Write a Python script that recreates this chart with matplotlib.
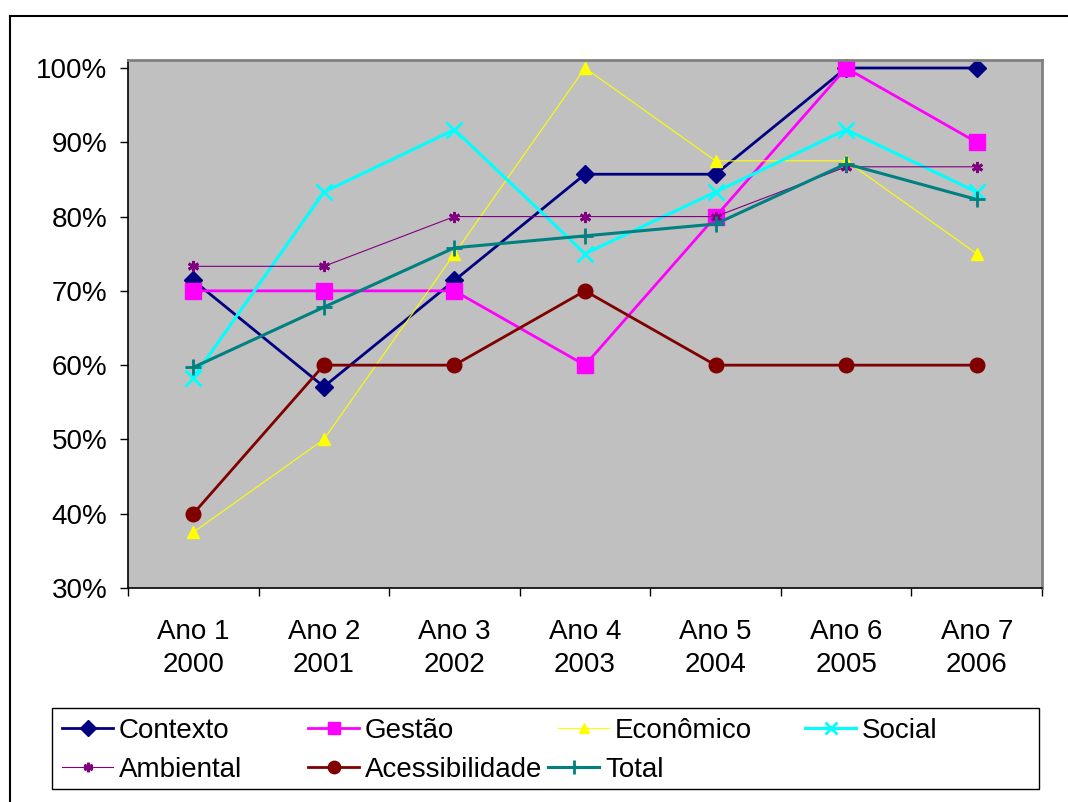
import numpy as np
import matplotlib
matplotlib.use("Agg")
import matplotlib.pyplot as plt
from matplotlib.lines import Line2D
from matplotlib.patches import Rectangle
from matplotlib.ticker import FuncFormatter

plt.rcParams['font.family'] = ['Liberation Sans', 'DejaVu Sans']

W, H = 1068, 802

anos = ["Ano 1\n2000", "Ano 2\n2001", "Ano 3\n2002", "Ano 4\n2003",
        "Ano 5\n2004", "Ano 6\n2005", "Ano 7\n2006"]

contexto = [71.4, 57.1, 71.4, 85.7, 85.7, 100.0, 100.0]
gestao = [70.0, 70.0, 70.0, 60.0, 80.0, 100.0, 90.0]
economico = [37.5, 50.0, 75.0, 100.0, 87.5, 87.5, 75.0]
social = [58.3, 83.3, 91.7, 75.0, 83.3, 91.7, 83.3]
ambiental = [73.3, 73.3, 80.0, 80.0, 80.0, 86.7, 86.7]
acessibilidade = [40.0, 60.0, 60.0, 70.0, 60.0, 60.0, 60.0]
total = [59.7, 67.8, 75.8, 77.4, 79.0, 87.1, 82.3]

# nome, valores, cor, marcador, tamanho, espessura da linha, mew
series = [
    ("Contexto", contexto, "#000080", "D", 9, 2.0, 1),
    ("Gestão", gestao, "#FF00FF", "s", 11, 2.0, 1),
    ("Econômico", economico, "#FFFF00", "^", 8, 0.8, 1),
    ("Social", social, "#00FFFF", "x", 11, 2.2, 2),
    ("Ambiental", ambiental, "#800080", (6, 2, 0), 8, 0.8, 2),
    ("Acessibilidade", acessibilidade, "#800000", "o", 10.5, 2.0, 1),
    ("Total", total, "#008080", "+", 12, 2.2, 2),
]

fig = plt.figure(figsize=(W / 100, H / 100), dpi=100)
ax = fig.add_axes([128 / W, (H - 588) / H, (1042 - 128) / W, (588 - 60) / H])
ax.set_facecolor("#C0C0C0")

x = np.arange(len(anos))
handles = {}
for nome, vals, cor, mk, ms, lw, mew in series:
    h, = ax.plot(x, vals, color=cor, marker=mk, markersize=ms, linewidth=lw,
                 markeredgewidth=mew, markeredgecolor=cor, markerfacecolor=cor,
                 clip_on=False, label=nome)
    handles[nome] = h

ax.set_xlim(-0.5, 6.5)
ax.set_ylim(30, 100 + 8 / 74.3 * 10)
ax.set_yticks(np.arange(30, 101, 10))
ax.yaxis.set_major_formatter(FuncFormatter(lambda v, p: f"{v:.0f}%"))
ax.tick_params(axis='y', direction='out', length=6, width=1, labelsize=20, pad=9)

ax.set_xticks(x)
ax.set_xticklabels(anos)
ax.set_xticks(np.arange(-0.5, 7, 1), minor=True)
ax.tick_params(axis='x', which='major', length=0, labelsize=20, pad=22)
ax.tick_params(axis='x', which='minor', direction='out', length=6, width=1)
for lab in ax.get_xticklabels():
    lab.set_linespacing(1.35)

for s in ("top", "right"):
    ax.spines[s].set_color("#808080")
    ax.spines[s].set_linewidth(2)
for s in ("left", "bottom"):
    ax.spines[s].set_color("#000000")
    ax.spines[s].set_linewidth(1.2)

# legenda: cada item posicionado na sua linha, dentro de uma moldura
itens_legenda = [
    ("Contexto", 62, 731), ("Gestão", 308, 731), ("Econômico", 558, 731), ("Social", 805, 731),
    ("Ambiental", 62, 770), ("Acessibilidade", 308, 770), ("Total", 548, 770),
]
for nome, px, py in itens_legenda:
    leg = fig.legend([handles[nome]], [nome], loc="center left",
                     bbox_to_anchor=(px / W, (H - py) / H), frameon=False,
                     fontsize=20, borderpad=0, borderaxespad=0,
                     handlelength=1.85, handletextpad=0.2)
    for lh in leg.legend_handles:
        lh.set_markersize(lh.get_markersize() * 0.85)

fig.add_artist(Rectangle((52 / W, (H - 789) / H), (1039 - 52) / W, (789 - 708) / H,
                         transform=fig.transFigure, fill=False, edgecolor="black", lw=1.0))

# moldura externa
fig.add_artist(Line2D([10 / W, 10 / W], [0, (H - 16) / H], color="black", lw=1.5))
fig.add_artist(Line2D([10 / W, 1], [(H - 16) / H, (H - 16) / H], color="black", lw=1.5))

fig.savefig("out.png", dpi=100)
